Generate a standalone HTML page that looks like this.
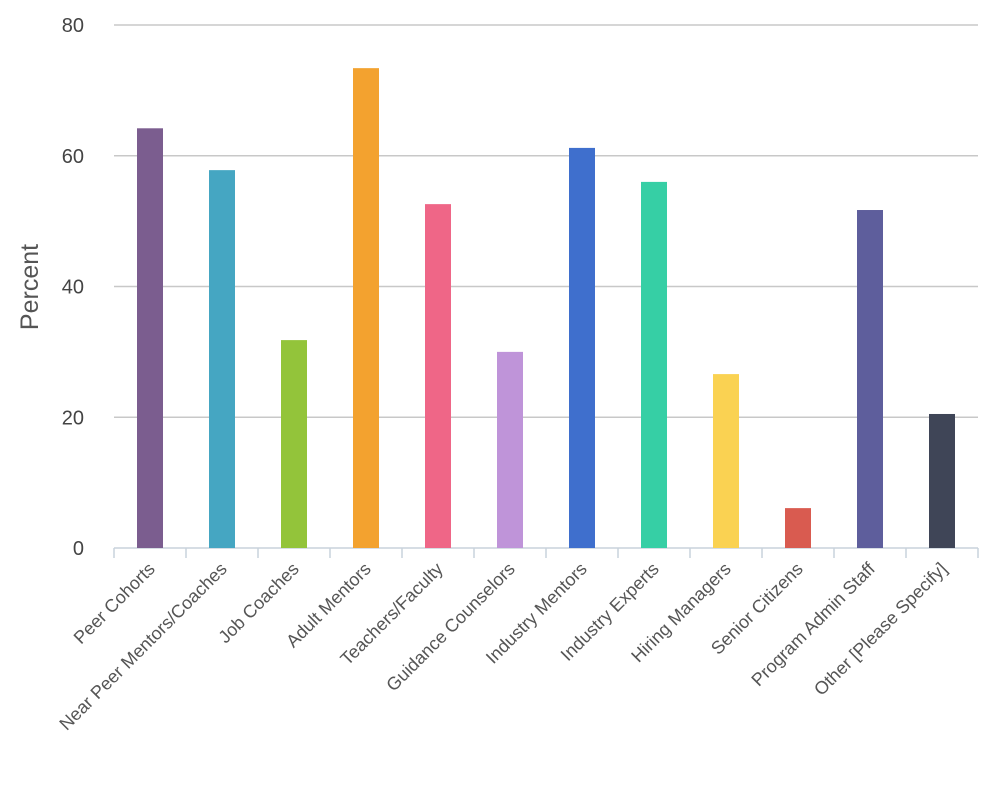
<!DOCTYPE html>
<html><head><meta charset="utf-8"><style>
body{margin:0;background:#fff;}
svg text{font-family:"Liberation Sans",sans-serif;}
</style></head><body>
<svg id="chart" width="996" height="786" viewBox="0 0 996 786" xmlns="http://www.w3.org/2000/svg">
<g id="grid"></g>
<g id="bars"></g>
<g id="xlabels"></g>
<g id="ylabels"></g>
<text transform="translate(38,287) rotate(-90)" text-anchor="middle" font-size="25" fill="#555">Percent</text>
</svg>
<script>
const categories=["Peer Cohorts","Near Peer Mentors/Coaches","Job Coaches","Adult Mentors","Teachers/Faculty","Guidance Counselors","Industry Mentors","Industry Experts","Hiring Managers","Senior Citizens","Program Admin Staff","Other [Please Specify]"];
const values=[64.2,57.8,31.8,73.4,52.6,30.0,61.2,56.0,26.6,6.1,51.7,20.5];
const colors=["#7b5d8f","#45a6c2","#93c43a","#f3a22f","#ef6687","#bf94d9","#3f6fcd","#36cfa5","#fad252","#d95b50","#5e5e9c","#3f4557"];
const yTicks=[0,20,40,60,80];
const NS="http://www.w3.org/2000/svg";
const x0=114,x1=978,yBase=548,yTop=25,yMax=80;
const y=v=>yBase-(v/yMax)*(yBase-yTop);
const band=(x1-x0)/categories.length;
const xc=i=>x0+band*(i+0.5);
function mk(t,a,p){const e=document.createElementNS(NS,t);for(const k in a)e.setAttribute(k,a[k]);p.appendChild(e);return e;}
const grid=document.getElementById('grid'),bars=document.getElementById('bars'),xl=document.getElementById('xlabels'),yl=document.getElementById('ylabels');
yTicks.forEach(t=>{
 if(t>0){const l=mk('line',{x1:x0,x2:x1,y1:y(t),y2:y(t),stroke:'#c8c8c8','stroke-width':1.5},grid);
 
 }
 const tx=mk('text',{x:84,y:y(t)+7,'text-anchor':'end','font-size':20,fill:'#444'},yl);
 tx.textContent=t;
 
 
});
const ax=mk('line',{x1:x0,x2:x1,y1:yBase,y2:yBase,stroke:'#c8d2dc','stroke-width':1.5},grid);


for(let i=0;i<=categories.length;i++){
 const tk=mk('line',{x1:x0+band*i,x2:x0+band*i,y1:yBase,y2:yBase+10,stroke:'#c8d2dc','stroke-width':1.5},grid);
 
 
}
categories.forEach((c,i)=>{
 const w=26;
 const r=mk('rect',{x:xc(i)-w/2,y:y(values[i]),width:w,height:yBase-y(values[i]),fill:colors[i]},bars);
 
 
 const t=mk('text',{transform:`translate(${xc(i)+6},${yBase+22}) rotate(-45)`,'text-anchor':'end','font-size':18,fill:'#555'},xl);
 t.textContent=c;
 
 
});
</script>
</body></html>
